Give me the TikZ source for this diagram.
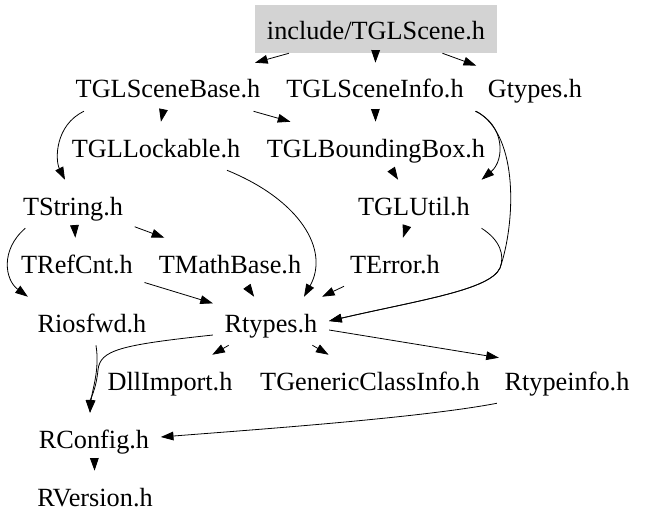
\documentclass[tikz,border=0pt]{standalone}
\usepackage{fontspec}
\newfontfamily\dotfont{Liberation Serif}
\usetikzlibrary{arrows.meta}
\definecolor{boxgray}{RGB}{211,211,211}
\tikzset{
  file/.style={inner xsep=8.6pt,inner ysep=0pt,minimum height=36pt,
    text height=16.5pt,text depth=0pt,font=\dotfont\fontsize{19.7}{22}\selectfont},
  root/.style={file,fill=boxgray},
  dep/.style={line width=0.6pt,-{Triangle[length=9.5pt,width=6.5pt]}}
}
\begin{document}
\begin{tikzpicture}[x=0.75pt,y=-0.75pt]
  \useasboundingbox (0,0) rectangle (649,528);

  \node[root] (scene) at (376,29) {include/TGLScene.h};
  \node[file] (base) at (168,87) {TGLSceneBase.h};
  \node[file] (info) at (375,87) {TGLSceneInfo.h};
  \node[file] (gtypes) at (535,87) {Gtypes.h};
  \node[file] (lock) at (156,146) {TGLLockable.h};
  \node[file] (bbox) at (376,146) {TGLBoundingBox.h};
  \node[file] (tstring) at (73,204) {TString.h};
  \node[file] (util) at (414,204) {TGLUtil.h};
  \node[file] (refcnt) at (77,262) {TRefCnt.h};
  \node[file] (mathbase) at (230,262) {TMathBase.h};
  \node[file] (error) at (395,262) {TError.h};
  \node[file] (riosfwd) at (92,321) {Riosfwd.h};
  \node[file] (rtypes) at (271,321) {Rtypes.h};
  \node[file] (dll) at (170,379) {DllImport.h};
  \node[file] (gci) at (370,379) {TGenericClassInfo.h};
  \node[file] (rtypeinfo) at (567,379) {Rtypeinfo.h};
  \node[file] (rconfig) at (94,437) {RConfig.h};
  \node[file] (rversion) at (95,495) {RVersion.h};

  \draw[dep] (scene) -- (base);
  \draw[dep] (scene) -- (info);
  \draw[dep] (scene) -- (gtypes);
  \draw[dep] (base) -- (lock);
  \draw[dep] (base) -- (bbox);
  \draw[dep] ([shift={(20,0)}]base.south west) .. controls (55,125) and (55,160) .. ([shift={(-8,0)}]tstring.north);
  \draw[dep] (info) -- (bbox);
  \draw[dep] (info.south east) .. controls (505,125) and (505,160) .. (util.north east);
  \draw[dep] (gtypes.south west) .. controls (520,135) and (515,225) .. (500,268)
    .. controls (490,290) and (420,300) .. (rtypes.east);
  \draw[dep] (bbox) -- (util);
  \draw[dep] ([shift={(-25,0)}]lock.south east) .. controls (300,200) and (330,250) .. ([shift={(33,0)}]rtypes.north);
  \draw[dep] (tstring) -- (refcnt);
  \draw[dep] (tstring) -- (mathbase);
  \draw[dep] ([shift={(14,0)}]tstring.south west) .. controls (0,250) and (5,280) .. ([shift={(2,0)}]riosfwd.north west);
  \draw[dep] (util) -- (error);
  \draw[dep] (util.south east) .. controls (500,240) and (505,255) .. (500,268)
    .. controls (490,290) and (420,300) .. (rtypes.east);
  \draw[dep] (refcnt) -- (rtypes);
  \draw[dep] (mathbase) -- (rtypes);
  \draw[dep] (error) -- (rtypes);
  \draw[dep] (rtypes) -- (dll);
  \draw[dep] (rtypes) -- (gci);
  \draw[dep] ([shift={(0,9)}]rtypes.east) -- ([shift={(6,3)}]rtypeinfo.north west);
  \draw[dep] ([shift={(0,14)}]rtypes.west) .. controls (120,345) and (100,350) .. (98,370)
    .. controls (96,390) and (90,400) .. ([shift={(-4,0)}]rconfig.north);
  \draw[dep] (riosfwd) .. controls (100,370) and (92,390) .. ([shift={(-4,0)}]rconfig.north);
  \draw[dep] ([shift={(4,0)}]rtypeinfo.south west) .. controls (420,418) and (250,430) .. (rconfig.east);
  \draw[dep] (rconfig) -- (rversion);
\end{tikzpicture}
\end{document}
